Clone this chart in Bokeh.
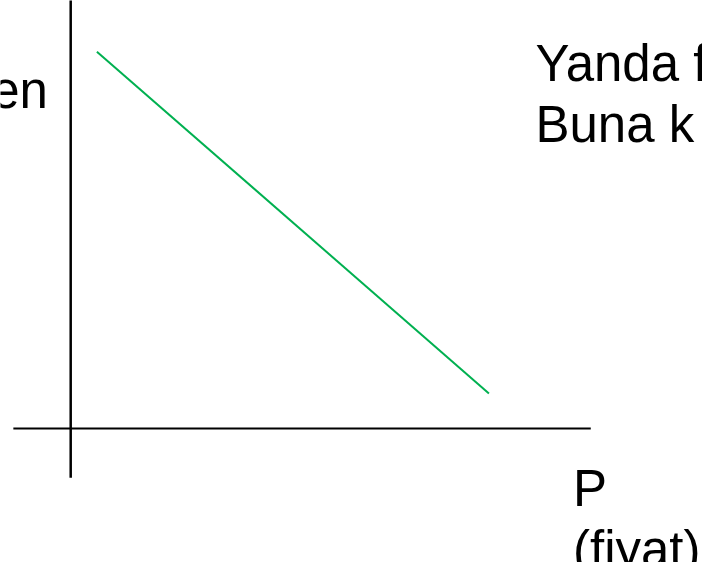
from bokeh.plotting import figure
from bokeh.models import Range1d, Label
from bokeh.embed import file_html
from bokeh.resources import INLINE

# Demand line (P on horizontal axis, quantity on vertical axis), origin at axes crossing
demand_p = [26.5, 423.0]
demand_q = [382.0, 35.5]

# Axis line extents
h_axis_x = [-58.0, 526.0]
v_axis_y = [-50.0, 440.0]

# Texts
left_text = "en"
right_lines = ["Yanda f", "Buna k"]
p_label = "P"
p_sub = "(fiyat)"

FONT = "Liberation Sans"
FS = "51px"

p = figure(width=702, height=562, output_backend="svg", toolbar_location=None,
           x_range=Range1d(-71, 639), y_range=Range1d(-136, 434),
           x_axis_type=None, y_axis_type=None, min_border=0)
p.grid.visible = False
p.outline_line_color = None
p.background_fill_color = "white"
p.border_fill_color = "white"

# axes
p.line(h_axis_x, [0, 0], line_color="black", line_width=2)
p.line([0, 0], v_axis_y, line_color="black", line_width=2.5)

# demand curve
p.line(demand_p, demand_q, line_color="#00B050", line_width=2)

def lab(x, y, t, align="left"):
    p.add_layout(Label(x=x, y=y, text=t, text_font=FONT, text_font_size=FS,
                       text_color="black", text_align=align,
                       text_baseline="alphabetic"))

lab(-23, 343, left_text, "right")
lab(470, 370, right_lines[0])
lab(470, 308, right_lines[1])
lab(508, -61, p_label)
lab(508, -123, p_sub)

open("out.html", "w").write(file_html(p, INLINE))
